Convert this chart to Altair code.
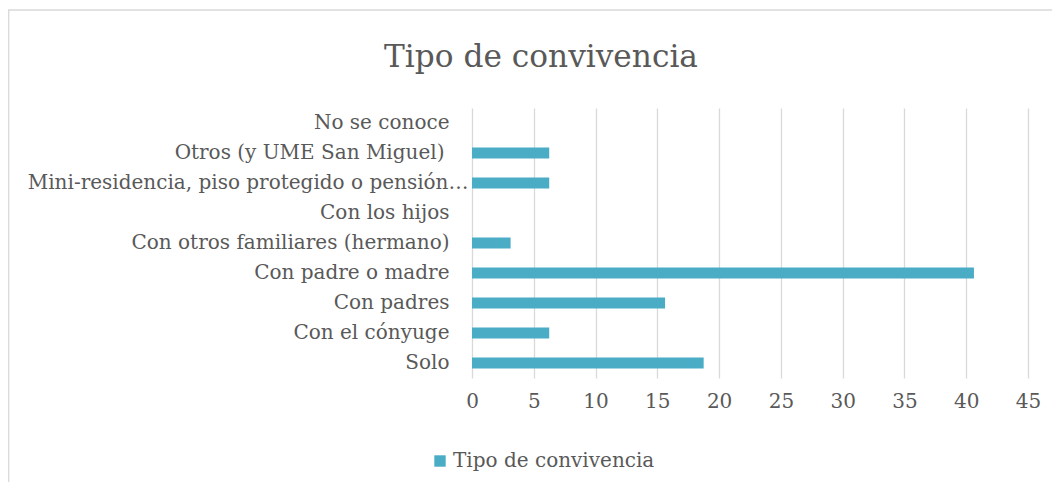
import altair as alt
import pandas as pd

categories = [
    "No se conoce",
    "Otros (y UME San Miguel)",
    "Mini-residencia, piso protegido o pensión…",
    "Con los hijos",
    "Con otros familiares (hermano)",
    "Con padre o madre",
    "Con padres",
    "Con el cónyuge",
    "Solo",
]
values = [0, 6.25, 6.25, 0, 3.125, 40.625, 15.625, 6.25, 18.75]
series = "Tipo de convivencia"
chart_title = "Tipo de convivencia"
x_ticks = [0, 5, 10, 15, 20, 25, 30, 35, 40, 45]

df = pd.DataFrame({"cat": categories, "val": values, "serie": [series] * len(categories)})

FONT = "DejaVu Serif"
TXT = "#595959"
W, H = 556, 270

pad_expr = (
    "datum.value == '" + categories[2] + "' ? 4 : "
    "(datum.value == '" + categories[1] + "' ? 28 : 23)"
)

bars = alt.Chart(df).mark_bar(size=11).encode(
    y=alt.Y("cat:N", sort=categories, title=None,
            scale=alt.Scale(paddingInner=0.6, paddingOuter=0.3),
            axis=alt.Axis(ticks=False, domain=False, labelFontSize=20, labelColor=TXT,
                          labelFont=FONT, labelPadding=alt.ExprRef(expr=pad_expr),
                          labelLimit=0, grid=False)),
    x=alt.X("val:Q", title=None,
            scale=alt.Scale(domain=[0, 45], nice=False),
            axis=alt.Axis(values=x_ticks, ticks=False, domain=False, grid=True,
                          gridColor="#D9D9D9", gridWidth=1.3, labelFontSize=20,
                          labelColor=TXT, labelFont=FONT, labelPadding=13,
                          labelFlush=False, labelOverlap=False)),
    color=alt.Color("serie:N", title=None,
                    scale=alt.Scale(range=["#4BACC6"]),
                    legend=alt.Legend(orient="none", legendX=-42, legendY=343,
                                      symbolType="square", symbolSize=130,
                                      symbolStrokeWidth=0, labelFontSize=20,
                                      labelColor=TXT, labelFont=FONT, labelOffset=3,
                                      labelLimit=0)),
)

title_txt = alt.Chart(pd.DataFrame({"t": [chart_title]})).mark_text(
    font=FONT, fontSize=31.2, color=TXT, align="center", baseline="alphabetic"
).encode(text="t:N", x=alt.value(69), y=alt.value(-41))

frame = alt.Chart(pd.DataFrame({"a": [0]})).mark_rect(
    fill=None, stroke="#D9D9D9", strokeWidth=1.3
).encode(x=alt.value(-463.3), x2=alt.value(W + 200), y=alt.value(-98), y2=alt.value(H + 200))

chart = alt.layer(frame, title_txt, bars).properties(
    width=W, height=H,
    autosize=alt.AutoSizeParams(type="none"),
    padding={"left": 464, "top": 100, "right": 24, "bottom": 104},
).configure_view(stroke=None)

chart.save("out.html", embed_options={"renderer": "svg", "actions": False})
